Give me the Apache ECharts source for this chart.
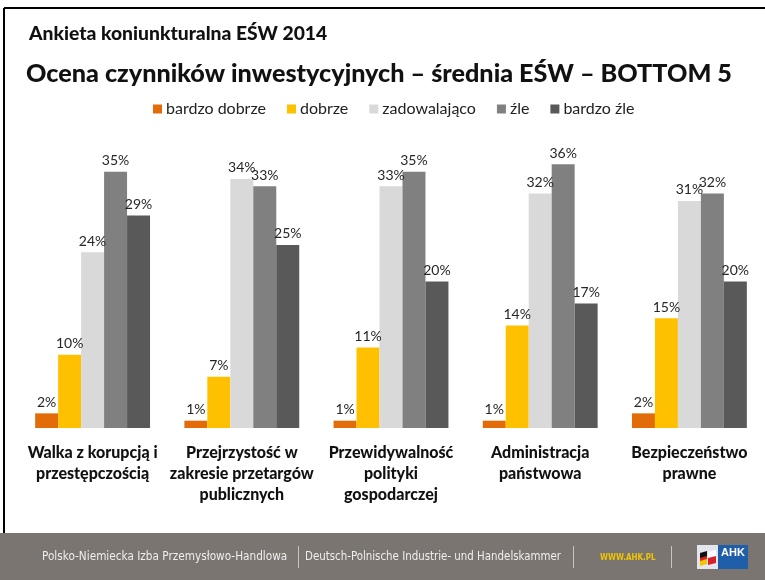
<!DOCTYPE html>
<html>
<head>
<meta charset="utf-8">
<script src="https://cdn.jsdelivr.net/npm/echarts@6/dist/echarts.min.js"></script>
<style>
html,body{margin:0;padding:0;background:#fff;}
#chart{width:765px;height:580px;}
</style>
</head>
<body>
<div id="chart"></div>
<script>
const categories = [
  'Walka z korupcją i\nprzestępczością',
  'Przejrzystość w\nzakresie przetargów\npublicznych',
  'Przewidywalność\npolityki\ngospodarczej',
  'Administracja\npaństwowa',
  'Bezpieczeństwo\nprawne'
];
const seriesNames = ['bardzo dobrze', 'dobrze', 'zadowalająco', 'źle', 'bardzo źle'];
const bardzoDobrze = [2, 1, 1, 1, 2];
const dobrze = [10, 7, 11, 14, 15];
const zadowalajaco = [24, 34, 33, 32, 31];
const zle = [35, 33, 35, 36, 32];
const bardzoZle = [29, 25, 20, 17, 20];
const seriesData = [bardzoDobrze, dobrze, zadowalajaco, zle, bardzoZle];
const colors = ['#E36C0A', '#FFC000', '#D9D9D9', '#808080', '#595959'];

const FONT = 'Lato, "Open Sans", sans-serif';
const FOOT = '"Liberation Sans Narrow", "DejaVu Sans Condensed", sans-serif';

const chart = echarts.init(document.getElementById('chart'), null, {renderer: 'canvas'});
chart.setOption({
  animation: false,
  backgroundColor: '#ffffff',
  color: colors,
  title: [
    {text: 'Ankieta koniunkturalna EŚW 2014', left: 24, top: 19,
     textStyle: {fontFamily: FONT, fontSize: 19.3, fontWeight: 900, color: '#111'}},
    {text: 'Ocena czynników inwestycyjnych – średnia EŚW – BOTTOM 5', left: 21, top: 56,
     textStyle: {fontFamily: FONT, fontSize: 25.2, fontWeight: 900, color: '#111'}}
  ],
  legend: {
    top: 96, left: 148,
    itemWidth: 9, itemHeight: 9, itemGap: 21,
    icon: 'rect',
    textStyle: {fontFamily: FONT, fontSize: 16, color: '#222', padding: [0, 0, 0, -1]},
    data: seriesNames
  },
  grid: {left: 18, right: 1, top: 135, bottom: 152, containLabel: false},
  xAxis: {
    type: 'category',
    data: categories,
    axisLine: {show: false},
    axisTick: {show: false},
    axisLabel: {interval: 0, margin: 14, fontFamily: FONT, fontSize: 16, fontWeight: 900,
      color: '#111', lineHeight: 21}
  },
  yAxis: {
    type: 'value', min: 0, max: 40, interval: 10,
    show: false,
    splitLine: {show: false}
  },
  series: seriesNames.map((name, i) => ({
    name: name,
    type: 'bar',
    data: seriesData[i],
    barGap: '0%',
    barCategoryGap: '23%',
    itemStyle: {color: colors[i]},
    label: {show: true, position: 'top', distance: 4, formatter: '{c}%',
      fontFamily: FONT, fontSize: 14, color: '#262626'}
  })),
  graphic: [
    {type: 'line', shape: {x1: 4, y1: 8, x2: 765, y2: 8}, style: {stroke: '#000', lineWidth: 2}, z: 10},
    {type: 'line', shape: {x1: 4, y1: 8, x2: 4, y2: 533}, style: {stroke: '#000', lineWidth: 2}, z: 10},
    {type: 'rect', shape: {x: 0, y: 533, width: 765, height: 47}, style: {fill: '#7a7571'}, z: 10},
    {type: 'text', x: 42, y: 557, style: {text: 'Polsko-Niemiecka Izba Przemysłowo-Handlowa', fill: '#efefef',
      font: '11.7px ' + FOOT, textVerticalAlign: 'middle'}, z: 11},
    {type: 'line', shape: {x1: 298.5, y1: 546, x2: 298.5, y2: 568}, style: {stroke: '#c8c4c0', lineWidth: 1}, z: 11},
    {type: 'text', x: 305, y: 557, style: {text: 'Deutsch-Polnische Industrie- und Handelskammer', fill: '#efefef',
      font: '11.4px ' + FOOT, textVerticalAlign: 'middle'}, z: 11},
    {type: 'line', shape: {x1: 573.5, y1: 546, x2: 573.5, y2: 568}, style: {stroke: '#c8c4c0', lineWidth: 1}, z: 11},
    {type: 'text', x: 600, y: 558, style: {text: 'WWW.AHK.PL', fill: '#f2c500',
      font: 'bold 8px ' + FOOT, textVerticalAlign: 'middle'}, z: 11},
    {type: 'line', shape: {x1: 671.5, y1: 546, x2: 671.5, y2: 568}, style: {stroke: '#c8c4c0', lineWidth: 1}, z: 11},
    {type: 'rect', shape: {x: 697, y: 545, width: 21, height: 24}, style: {fill: '#e4e6ee'}, z: 11},
    {type: 'rect', shape: {x: 718, y: 545, width: 30, height: 24}, style: {fill: '#1f5ea8'}, z: 11},
    {type: 'polygon', shape: {points: [[700, 553], [707, 551], [707, 558], [700, 560]]}, style: {fill: '#111'}, z: 12},
    {type: 'polygon', shape: {points: [[700, 558], [707, 556], [707, 561], [700, 563]]}, style: {fill: '#d22'}, z: 12},
    {type: 'polygon', shape: {points: [[700, 561], [707, 559], [707, 564], [700, 566]]}, style: {fill: '#f5c400'}, z: 12},
    {type: 'polygon', shape: {points: [[708, 552], [716, 550], [716, 557], [708, 559]]}, style: {fill: '#ffffff'}, z: 12},
    {type: 'polygon', shape: {points: [[708, 558], [716, 556], [716, 563], [708, 565]]}, style: {fill: '#d8202a'}, z: 12},
    {type: 'text', x: 721, y: 553, style: {text: 'AHK', fill: '#ffffff', font: 'bold 11px "Liberation Sans", Arial, sans-serif',
      textVerticalAlign: 'middle'}, z: 12}
  ]
});
</script>
</body>
</html>
